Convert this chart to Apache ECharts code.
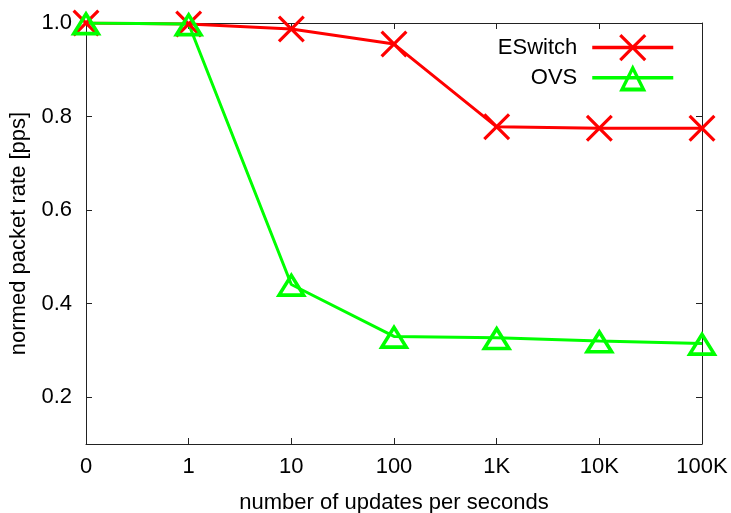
<!DOCTYPE html>
<html>
<head>
<meta charset="utf-8">
<title></title>
<script src="https://cdn.jsdelivr.net/npm/echarts@6/dist/echarts.min.js"></script>
</head>
<body style="margin:0">
<div id="container" style="width:731px;height:513px"></div>
<script type="text/javascript">
var categories = ['0', '1', '10', '100', '1K', '10K', '100K'];
var eswitch = [1.0, 0.998, 0.987, 0.955, 0.778, 0.775, 0.775];
var ovs = [1.0, 0.998, 0.441, 0.330, 0.327, 0.320, 0.315];
var yTicks = [0.2, 0.4, 0.6, 0.8, 1.0];

var font = 'Liberation Sans';
var fs = 22;
// X mark and hollow triangle (ring drawn with opposite winding)
var crossPath = 'path://M0,2 L2,0 L12,10 L22,0 L24,2 L14,12 L24,22 L22,24 L12,14 L2,24 L0,22 L10,12 Z';
var triPath = 'path://M15,0 L30,24 L0,24 Z M15,6.6 L6.3,20.5 L23.7,20.5 Z';

var chart = echarts.init(document.getElementById('container'));

var lineStyle = { color: '#222', width: 1 };

chart.setOption({
    animation: false,
    backgroundColor: '#fff',
    grid: { left: 86, right: 29, top: 23, bottom: 69, outerBoundsMode: 'none', containLabel: false },
    legend: {
        orient: 'vertical',
        right: 56,
        top: 34,
        padding: 0,
        align: 'right',
        itemWidth: 81,
        itemHeight: 34,
        itemGap: 3,
        lineStyle: { width: 3.5 },
        textStyle: { fontFamily: font, fontSize: fs, color: '#000', padding: [0, 10, 0, 0] },
        data: ['ESwitch', 'OVS']
    },
    xAxis: [{
        type: 'category',
        data: categories,
        boundaryGap: false,
        name: 'number of updates per seconds',
        nameLocation: 'middle',
        nameGap: 48,
        nameTextStyle: { fontFamily: font, fontSize: fs, color: '#000' },
        axisLine: { lineStyle: lineStyle },
        axisTick: { inside: true, length: 6, lineStyle: lineStyle },
        axisLabel: { fontFamily: font, fontSize: fs, color: '#000', margin: 12 },
        splitLine: { show: false }
    }, {
        type: 'category',
        data: categories,
        boundaryGap: false,
        position: 'top',
        axisLine: { lineStyle: lineStyle },
        axisTick: { inside: true, length: 6, lineStyle: lineStyle },
        axisLabel: { show: false },
        splitLine: { show: false }
    }],
    yAxis: [{
        type: 'value',
        min: 0.1,
        max: 1.0,
        name: 'normed packet rate [pps]',
        nameLocation: 'middle',
        nameGap: 56,
        nameTextStyle: { fontFamily: font, fontSize: fs, color: '#000' },
        axisLine: { show: true, lineStyle: lineStyle },
        axisTick: { show: true, inside: true, length: 6, lineStyle: lineStyle, customValues: yTicks },
        axisLabel: {
            fontFamily: font, fontSize: fs, color: '#000', margin: 14,
            customValues: yTicks,
            formatter: function (v) { return v.toFixed(1); }
        },
        splitLine: { show: false }
    }, {
        type: 'value',
        min: 0.1,
        max: 1.0,
        position: 'right',
        axisLine: { show: true, lineStyle: lineStyle },
        axisTick: { show: true, inside: true, length: 6, lineStyle: lineStyle, customValues: yTicks },
        axisLabel: { show: false, customValues: yTicks },
        splitLine: { show: false }
    }],
    series: [{
        name: 'ESwitch',
        type: 'line',
        data: eswitch,
        symbol: crossPath,
        symbolSize: 27,
        lineStyle: { color: '#ff0000', width: 3 },
        itemStyle: { color: '#ff0000' }
    }, {
        name: 'OVS',
        type: 'line',
        data: ovs,
        symbol: triPath,
        symbolSize: [31, 25],
        lineStyle: { color: '#00ff00', width: 3 },
        itemStyle: { color: '#00ff00' }
    }]
});
</script>
</body>
</html>
